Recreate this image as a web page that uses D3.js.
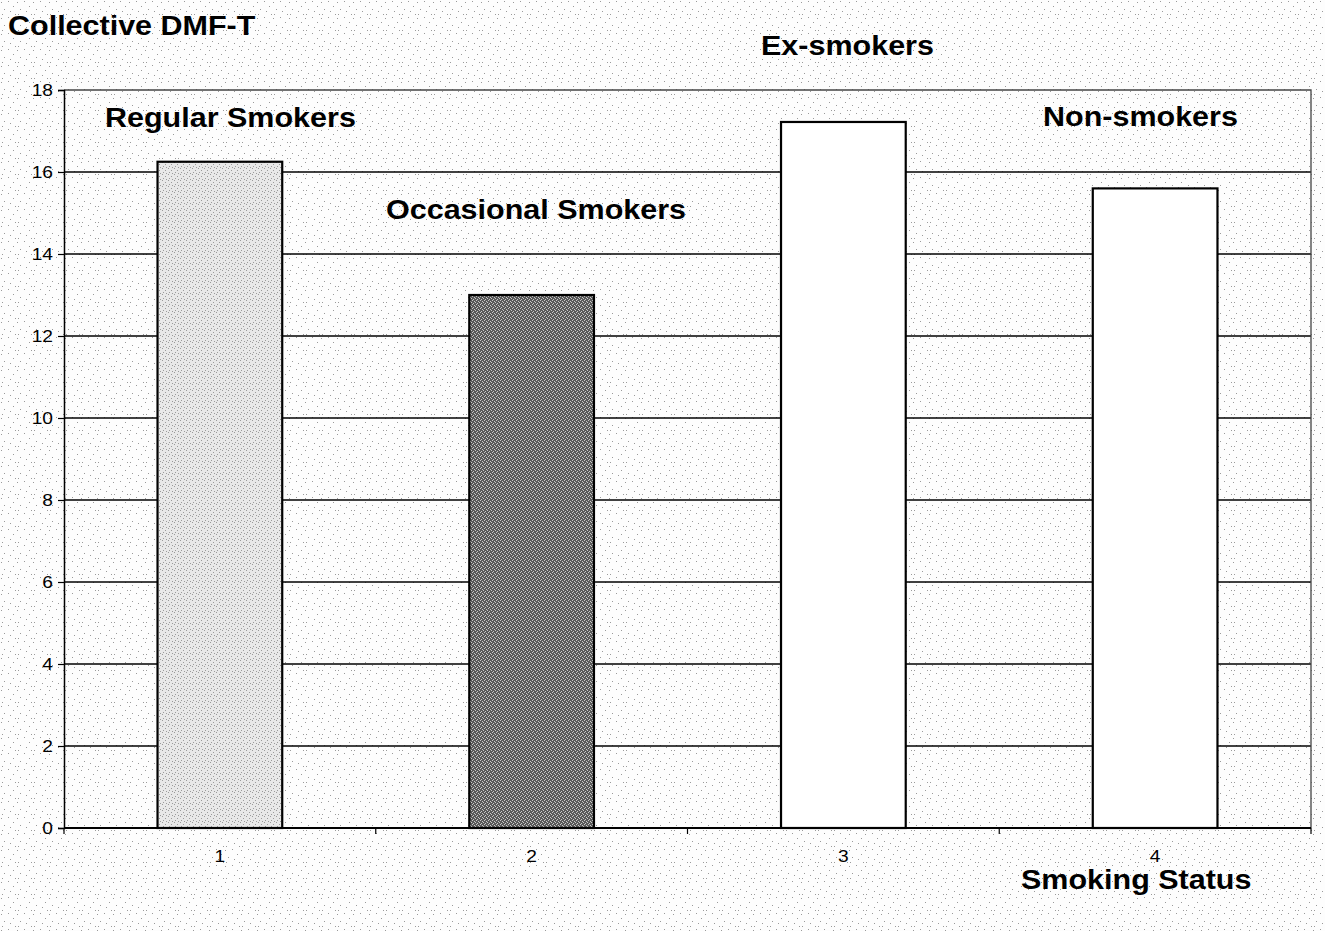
<!DOCTYPE html>
<html>
<head>
<meta charset="utf-8">
<script src="https://cdn.jsdelivr.net/npm/d3@7"></script>
<style>
  html, body { margin: 0; padding: 0; background: #ffffff; }
  svg { display: block; font-family: "Liberation Sans", Arial, sans-serif; }
</style>
</head>
<body>
<svg id="chart" width="1325" height="931"></svg>
<script>
// Collective DMF-T by smoking status
const categories = [1, 2, 3, 4];
const groupNames = ["Regular Smokers", "Occasional Smokers", "Ex-smokers", "Non-smokers"];
const dmft = [16.25, 13.0, 17.22, 15.6];
const yTicks = [0, 2, 4, 6, 8, 10, 12, 14, 16, 18];
const yTitle = "Collective DMF-T";
const xTitle = "Smoking Status";

const W = 1325, H = 931;
const plot = { left: 64, right: 1311, top: 90, bottom: 828 };
const stretch = 1.13; // glyphs in this figure are drawn slightly wide

const svg = d3.select("#chart");

// speckled paper texture
const defs = svg.append("defs");
function speckle(id, size, bg, dot, dots) {
  const p = defs.append("pattern").attr("id", id)
    .attr("patternUnits", "userSpaceOnUse").attr("width", size).attr("height", size);
  p.append("rect").attr("width", size).attr("height", size).attr("fill", bg);
  dots.forEach(([cx, cy]) => p.append("rect").attr("x", cx).attr("y", cy)
    .attr("width", 1).attr("height", 1).attr("fill", dot));
}
speckle("paper", 16, "#fdfdfd", "#9a9a9a",
  [[1, 2], [8, 1], [13, 6], [4, 9], [10, 11], [2, 14], [15, 14]]);
speckle("light", 6, "#e8e8e8", "#9a9a9a", [[0, 0], [3, 2], [1, 4], [4, 5]]);
speckle("dark", 4, "#595959", "#c8c8c8", [[0, 0], [2, 1], [1, 3], [3, 2]]);

const barFills = ["url(#light)", "url(#dark)", "#ffffff", "#ffffff"];

svg.append("rect").attr("width", W).attr("height", H).attr("fill", "url(#paper)");

const x = d3.scaleBand().domain(categories).range([plot.left, plot.right]).padding(0);
const y = d3.scaleLinear().domain([0, 18]).range([plot.bottom, plot.top]);

// horizontal gridlines
svg.append("g").selectAll("line")
  .data(yTicks.filter(t => t > 0 && t < 18))
  .join("line")
  .attr("x1", plot.left).attr("x2", plot.right)
  .attr("y1", d => y(d)).attr("y2", d => y(d))
  .attr("stroke", "#000").attr("stroke-width", 1.3);

// plot frame (top and right)
svg.append("path")
  .attr("d", `M${plot.left},${y(18)}H${plot.right}V${plot.bottom}`)
  .attr("fill", "none").attr("stroke", "#444").attr("stroke-width", 1.3);

// bars
const barW = x.bandwidth() * 0.4;
svg.append("g").selectAll("rect")
  .data(categories)
  .join("rect")
  .attr("x", (d) => x(d) + (x.bandwidth() - barW) / 2)
  .attr("y", (d, i) => y(dmft[i]))
  .attr("width", barW)
  .attr("height", (d, i) => y(0) - y(dmft[i]))
  .attr("fill", (d, i) => barFills[i])
  .attr("stroke", "#000").attr("stroke-width", 2.2);

// stretched text helper
function label(g, str, px, py, size, weight, anchor) {
  return g.append("text")
    .attr("transform", `translate(${px},${py}) scale(${stretch},1)`)
    .attr("font-size", size).attr("font-weight", weight)
    .attr("text-anchor", anchor || "start").attr("fill", "#000")
    .text(str);
}

// y axis
const yAxis = svg.append("g")
  .attr("transform", `translate(${plot.left},0)`)
  .call(d3.axisLeft(y).tickValues(yTicks).tickSize(6).tickPadding(6).tickFormat(d3.format("d")));
yAxis.attr("font-size", null).attr("font-family", null);
yAxis.select(".domain").attr("stroke", "#000").attr("stroke-width", 1.5);
yAxis.selectAll(".tick line").attr("stroke", "#000").attr("stroke-width", 1.2);
yAxis.selectAll(".tick text")
  .style("font-size", "17px").attr("fill", "#000")
  .attr("transform", `scale(${stretch},1)`)
  .attr("x", -11 / stretch);

// x axis: category labels at band centres, ticks at band edges
const xAxis = svg.append("g")
  .attr("transform", `translate(0,${plot.bottom})`)
  .call(d3.axisBottom(x).tickSize(0).tickPadding(22));
xAxis.attr("font-size", null).attr("font-family", null);
xAxis.select(".domain").remove();
xAxis.selectAll(".tick text")
  .style("font-size", "17px").attr("fill", "#000")
  .attr("transform", `scale(${stretch},1)`);

const edges = categories.map(c => x(c)).concat([plot.right]);
svg.append("g").selectAll("line")
  .data(edges)
  .join("line")
  .attr("x1", d => d).attr("x2", d => d)
  .attr("y1", plot.bottom).attr("y2", plot.bottom + 6)
  .attr("stroke", "#000").attr("stroke-width", 1.2);
svg.append("line")
  .attr("x1", plot.left).attr("x2", plot.right)
  .attr("y1", plot.bottom).attr("y2", plot.bottom)
  .attr("stroke", "#000").attr("stroke-width", 1.8);

// titles and group names
const ann = svg.append("g");
label(ann, yTitle, 8, 35, 27, "bold");
label(ann, xTitle, 1021, 889, 27, "bold");
const groupPos = [[105, 127], [386, 219], [761, 55], [1043, 126]];
groupNames.forEach((n, i) => label(ann, n, groupPos[i][0], groupPos[i][1], 27, "bold"));
</script>
</body>
</html>
